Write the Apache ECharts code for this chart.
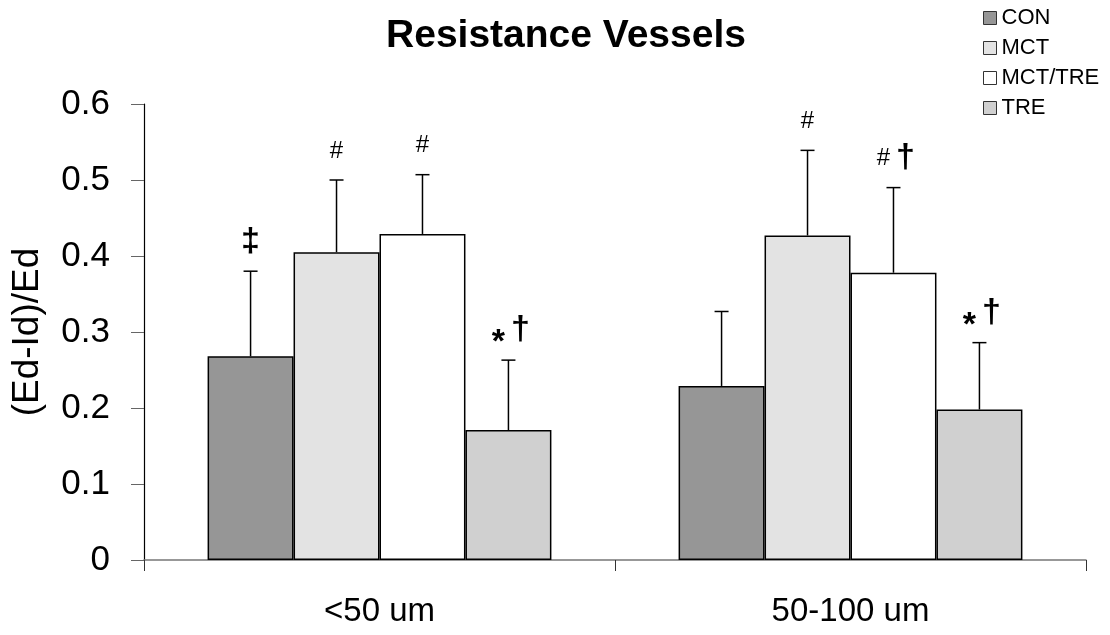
<!DOCTYPE html>
<html>
<head>
<meta charset="utf-8">
<title>Resistance Vessels</title>
<script src="https://cdn.jsdelivr.net/npm/echarts@6/dist/echarts.min.js"></script>
<style>
  html, body { margin: 0; padding: 0; background: #fff; }
  #chart { width: 1110px; height: 635px; }
</style>
</head>
<body>
<div id="chart"></div>
<script>
// Vessel size classes on the x axis
const categories = ['<50 um', '50-100 um'];

// Group names and mean (Ed-Id)/Ed per size class
const groups = ['CON', 'MCT', 'MCT/TRE', 'TRE'];
const conMean = [0.268, 0.229];
const mctMean = [0.405, 0.427];
const mctTreMean = [0.429, 0.378];
const treMean = [0.171, 0.198];

// Upper error bar length (SD) per size class
const conErr = [0.112, 0.098];
const mctErr = [0.095, 0.112];
const mctTreErr = [0.078, 0.112];
const treErr = [0.092, 0.088];

// Significance markers above each bar
const conMarks = [['‡'], []];
const mctMarks = [['#'], ['#']];
const mctTreMarks = [['#'], ['#', '†']];
const treMarks = [['*', '†'], ['*', '†']];

// Y axis ticks
const yTicks = [0, 0.1, 0.2, 0.3, 0.4, 0.5, 0.6];

const means = [conMean, mctMean, mctTreMean, treMean];
const errs = [conErr, mctErr, mctTreErr, treErr];
const marks = [conMarks, mctMarks, mctTreMarks, treMarks];
const fills = ['#969696', '#e3e3e3', '#ffffff', '#d0d0d0'];

const FONT = "'Liberation Sans', Arial, Helvetica, sans-serif";
const CAT_GAP = 0.27;

const barSeries = groups.map((g, i) => ({
  name: g,
  type: 'bar',
  data: means[i],
  barGap: '0%',
  barCategoryGap: (CAT_GAP * 100) + '%',
  itemStyle: { color: fills[i], borderColor: '#000', borderWidth: 1.5 },
  emphasis: { disabled: true },
  z: 2
}));

// Error bar records: [category index, group index, mean, err]
const errData = [];
groups.forEach((g, s) => {
  categories.forEach((c, k) => {
    errData.push([k, s, means[s][k], errs[s][k]]);
  });
});

// Upper error whisker with cap, plus the significance glyphs above it
function renderErr(params, api) {
  const cat = api.value(0);
  const s = api.value(1);
  const mean = api.value(2);
  const err = api.value(3);
  const band = api.size([1, 0])[0];
  const barW = band * (1 - CAT_GAP) / groups.length;
  const base = api.coord([cat, mean]);
  const top = api.coord([cat, mean + err]);
  const x = base[0] + (s - (groups.length - 1) / 2) * barW;
  const children = [
    { type: 'line', shape: { x1: x, y1: base[1], x2: x, y2: top[1] },
      style: { stroke: '#000', lineWidth: 1.5 } },
    { type: 'line', shape: { x1: x - 7, y1: top[1], x2: x + 7, y2: top[1] },
      style: { stroke: '#000', lineWidth: 1.5 } }
  ];
  const m = marks[s][cat];
  m.forEach((sym, j) => {
    let dx = 0;
    if (m.length === 2) dx = j === 0 ? -10 : 12;
    let size = 34, dy = -30, weight = 'bold';
    if (sym === '#') { size = 24; dy = -29; weight = 'normal'; }
    if (sym === '*') { size = 34; dy = -17; }
    children.push({
      type: 'text',
      style: {
        text: sym, x: x + dx, y: top[1] + dy,
        fill: '#000', font: weight + ' ' + size + 'px ' + FONT,
        textAlign: 'center', textVerticalAlign: 'middle'
      }
    });
  });
  return { type: 'group', children: children };
}

const chart = echarts.init(document.getElementById('chart'), null, { renderer: 'canvas' });

chart.setOption({
  animation: false,
  backgroundColor: '#fff',
  title: {
    text: 'Resistance Vessels',
    left: 561,
    top: 12,
    textAlign: 'center',
    textStyle: { fontFamily: FONT, fontSize: 39, fontWeight: 'bold', color: '#000' }
  },
  legend: {
    orient: 'vertical',
    left: 978,
    top: 2,
    itemWidth: 13,
    itemHeight: 13,
    itemGap: 8,
    icon: 'rect',
    data: groups,
    selectedMode: false,
    itemStyle: { borderColor: '#333', borderWidth: 1 },
    textStyle: { fontFamily: FONT, fontSize: 22, color: '#000', padding: 0 }
  },
  grid: { left: 144, right: 24, top: 104, bottom: 75, containLabel: false },
  xAxis: {
    type: 'category',
    data: categories,
    axisLine: { lineStyle: { color: '#777', width: 1.5 } },
    axisTick: { show: true, length: 11, lineStyle: { color: '#333', width: 1 } },
    axisLabel: { fontFamily: FONT, fontSize: 33, color: '#000', margin: 35 }
  },
  yAxis: {
    type: 'value',
    min: yTicks[0],
    max: yTicks[yTicks.length - 1],
    interval: yTicks[1] - yTicks[0],
    name: '(Ed-Id)/Ed',
    nameLocation: 'middle',
    nameGap: 98,
    nameTextStyle: { fontFamily: FONT, fontSize: 37, color: '#000' },
    axisLine: { show: true, lineStyle: { color: '#000', width: 1.2 } },
    axisTick: { show: true, length: 13, lineStyle: { color: '#666', width: 1 } },
    splitLine: { show: false },
    axisLabel: {
      fontFamily: FONT, fontSize: 35, color: '#000', margin: 34,
      formatter: v => (v === 0 ? '0' : v.toFixed(1))
    }
  },
  series: barSeries.concat([{
    type: 'custom',
    name: 'err',
    renderItem: renderErr,
    data: errData,
    encode: { x: 0, y: 2 },
    clip: false,
    silent: true,
    z: 5
  }])
});
</script>
</body>
</html>
